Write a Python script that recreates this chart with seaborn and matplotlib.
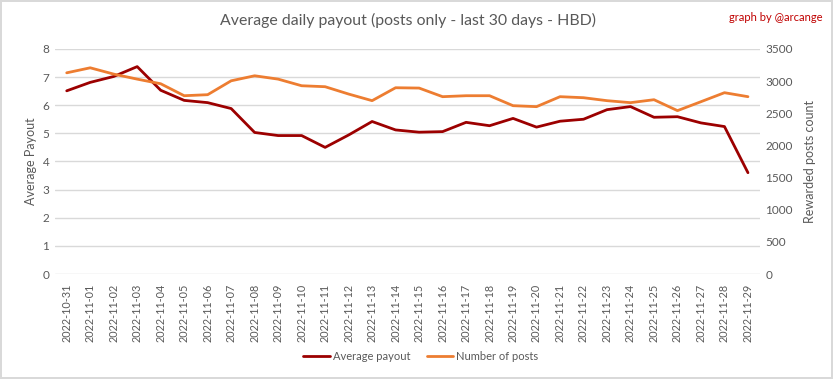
import matplotlib
matplotlib.use("Agg")
import matplotlib.pyplot as plt
import seaborn as sns
import pandas as pd

dates = ["2022-10-31", "2022-11-01", "2022-11-02", "2022-11-03", "2022-11-04", "2022-11-05",
         "2022-11-06", "2022-11-07", "2022-11-08", "2022-11-09", "2022-11-10", "2022-11-11",
         "2022-11-12", "2022-11-13", "2022-11-14", "2022-11-15", "2022-11-16", "2022-11-17",
         "2022-11-18", "2022-11-19", "2022-11-20", "2022-11-21", "2022-11-22", "2022-11-23",
         "2022-11-24", "2022-11-25", "2022-11-26", "2022-11-27", "2022-11-28", "2022-11-29"]
avg_payout = [6.51, 6.81, 7.02, 7.37, 6.53, 6.17, 6.09, 5.88, 5.03, 4.92, 4.92, 4.50,
              4.94, 5.42, 5.12, 5.04, 5.06, 5.39, 5.27, 5.53, 5.22, 5.43, 5.50, 5.84,
              5.95, 5.57, 5.59, 5.37, 5.24, 3.60]
num_posts = [3128, 3206, 3108, 3030, 2958, 2772, 2788, 3004, 3082, 3030, 2927, 2912,
             2798, 2695, 2896, 2891, 2757, 2772, 2772, 2617, 2602, 2757, 2741, 2695,
             2664, 2710, 2540, 2679, 2819, 2757]
left_ticks = [0, 1, 2, 3, 4, 5, 6, 7, 8]
right_ticks = [0, 500, 1000, 1500, 2000, 2500, 3000, 3500]

sns.set_theme(style="white")
plt.rcParams["font.family"] = ["Lato", "DejaVu Sans"]

df = pd.DataFrame({"date": dates, "avg": avg_payout, "posts": num_posts})
df["i"] = range(len(df))

RED = "#9C0000"
ORANGE = "#ED7D31"
GRID = "#D9D9D9"
TXT = "#595959"

fig = plt.figure(figsize=(8.33, 3.79), dpi=100)
fig.patch.set_edgecolor(GRID)
fig.patch.set_linewidth(1.5)
ax = fig.add_axes([0.066, 0.277, 0.846, 0.594])
ax2 = ax.twinx()

sns.lineplot(data=df, x="i", y="avg", ax=ax, color=RED, linewidth=2, label="Average payout", legend=False)
sns.lineplot(data=df, x="i", y="posts", ax=ax2, color=ORANGE, linewidth=2, label="Number of posts", legend=False)

ax.set_xlim(-0.5, len(dates) - 0.5)
ax.set_ylim(0, 8)
ax2.set_ylim(0, 3500)
ax.set_yticks(left_ticks)
ax2.set_yticks(right_ticks)
ax.set_xticks(df["i"])
ax.set_xticklabels(dates, rotation=90, fontsize=7.8, color=TXT)
ax.yaxis.grid(True, color=GRID, linewidth=1)
ax.set_axisbelow(True)
ax2.grid(False)
for a in (ax, ax2):
    for s in a.spines.values():
        s.set_visible(False)
    a.tick_params(axis="y", length=0, labelsize=8.5, labelcolor=TXT, pad=4)
ax.tick_params(axis="x", length=0, labelsize=7.8, labelcolor=TXT, pad=7)
ax.set_xlabel("")
ax.set_ylabel("Average Payout", fontsize=9, color=TXT)
ax2.set_ylabel("Rewarded posts count", fontsize=9, color=TXT, labelpad=8)

fig.text(0.49, 0.945, "Average daily payout (posts only - last 30 days - HBD)", ha="center", va="center",
         fontsize=11.4, color=TXT)
fig.text(0.987, 0.955, "graph by @arcange", ha="right", va="center", fontsize=8, color="#C00000")

h1, l1 = ax.get_legend_handles_labels()
h2, l2 = ax2.get_legend_handles_labels()
fig.legend(h1 + h2, l1 + l2, loc="center", bbox_to_anchor=(0.505, 0.06), ncol=2, frameon=False,
           fontsize=8, labelcolor=TXT, handlelength=2.4, columnspacing=1.5, handletextpad=0.25)

fig.savefig("out.png", dpi=100)
